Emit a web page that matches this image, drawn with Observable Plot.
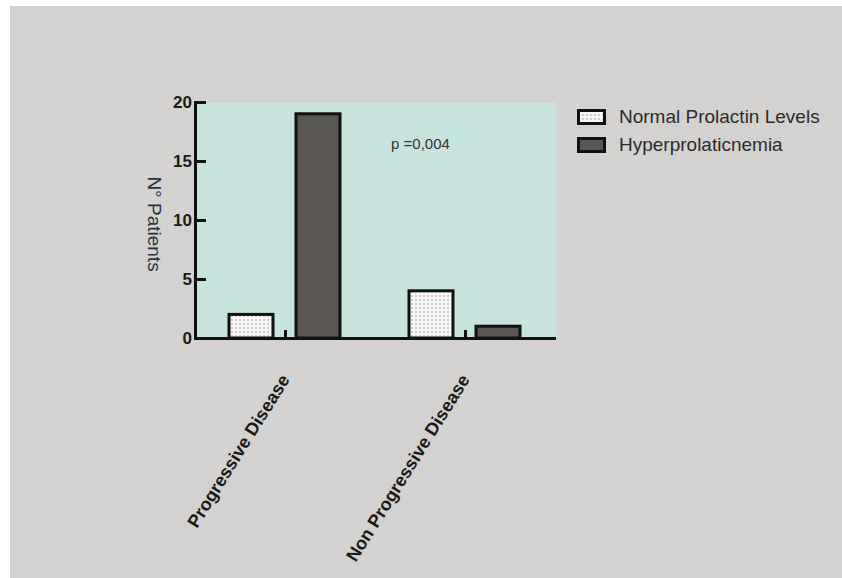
<!DOCTYPE html>
<html><head><meta charset="utf-8">
<script src="https://cdn.jsdelivr.net/npm/d3@7"></script>
<script src="https://cdn.jsdelivr.net/npm/@observablehq/plot@0.6"></script>
<style>
html,body{margin:0;padding:0;background:#fff;}
#wrap{position:absolute;left:10px;top:6px;width:832px;height:572px;background:#d3d2d0;overflow:hidden;font-family:"Liberation Sans",Arial,sans-serif;}
#legend{position:absolute;left:567px;top:97px;}
.row{display:flex;align-items:center;height:28px;font-size:19px;color:#2b2b2b;white-space:nowrap;}
.row svg{margin-right:13px;flex:none;}
</style></head><body><div id="wrap"><div id="legend"></div></div>
<script>
const groups = ["Progressive Disease", "Non Progressive Disease"];
const series = ["Normal Prolactin Levels", "Hyperprolaticnemia"];
const normalValues = [2, 4];
const hyperValues = [19, 1];
const yTicks = [0, 5, 10, 15, 20];
const yLabelParts = ["N°", "Patients"];
const pLabel = "p =0,004";
const pAnnotation = [{group: "Non Progressive Disease", series: "Normal Prolactin Levels", value: 16.5}];
const seriesFills = ["url(#dots)", "#5a5653"];

const data = groups.flatMap((g, i) => [
  {group: g, series: series[0], value: normalValues[i]},
  {group: g, series: series[1], value: hyperValues[i]}
]);

const chart = Plot.plot({
  width: 832, height: 572,
  marginLeft: 185, marginRight: 287, marginTop: 96, marginBottom: 240,
  style: {background: "transparent", fontFamily: "'Liberation Sans', Arial, sans-serif", color: "#1a1a1a"},
  fx: {domain: groups, padding: 0, label: null},
  x: {domain: series, paddingInner: 0.336, paddingOuter: 0.51, axis: null},
  y: {domain: [0, 20], axis: null},
  color: {domain: series, range: seriesFills},
  marks: [
    Plot.frame({fill: "#c8e4df", stroke: "none", insetRight: -1}),
    Plot.barY(data, {fx: "group", x: "series", y: "value", fill: "series", stroke: "#111", strokeWidth: 3}),
    Plot.ruleY([0], {strokeWidth: 3, stroke: "#111", insetRight: -1}),
    Plot.ruleX(groups, {fx: d => d, x: null, y1: 0, y2: 0, insetTop: -8, strokeWidth: 3, stroke: "#111"}),
    Plot.frame({anchor: "left", facetAnchor: "left", strokeWidth: 3, stroke: "#111"}),
    Plot.axisY({ticks: yTicks, tickSize: -11, tickPadding: 14.5, strokeWidth: 3, stroke: "#111", fontSize: 17, fontWeight: "bold", label: null}),
    Plot.axisFx({anchor: "bottom", tickSize: 0, tickPadding: 38, tickRotate: -58, fontSize: 18, fontWeight: "bold", label: null}),
    Plot.text(pAnnotation, {fx: "group", x: "series", y: "value", text: () => pLabel, dx: -11, fontSize: 15, fill: "#333"}),
    Plot.text([groups[0]], {fx: d => d, frameAnchor: "left", textAnchor: "middle", rotate: 90, dx: -41, dy: 3.5, text: () => yLabelParts.join(" "), fontSize: 19, fill: "#27323d", ariaLabel: "ylabel"})
  ]
});

// dot pattern
const ns = "http://www.w3.org/2000/svg";
const defs = document.createElementNS(ns, "defs");
defs.innerHTML = '<pattern id="dots" width="4" height="4" patternUnits="userSpaceOnUse"><rect width="4" height="4" fill="#f6f6f4"/><circle cx="2" cy="2" r="0.75" fill="#8a8a8a"/></pattern>';
chart.insertBefore(defs, chart.firstChild);

// mixed-style y label
const yl = chart.querySelector('g[aria-label="ylabel"] text');
if (yl) {
  yl.textContent = "";
  const t1 = document.createElementNS(ns, "tspan"); t1.textContent = yLabelParts[0] + " ";
  const t2 = document.createElementNS(ns, "tspan"); t2.textContent = yLabelParts[1]; t2.setAttribute("font-style", "italic");
  yl.appendChild(t1); yl.appendChild(t2);
  yl.style.letterSpacing = "1.3px";
}

document.getElementById("wrap").appendChild(chart);

// legend from the color scale
const cs = chart.scale("color");
const legend = document.getElementById("legend");
cs.domain.forEach((name, i) => {
  const row = document.createElement("div");
  row.className = "row";
  row.innerHTML = `<svg width="29" height="16"><rect x="1.5" y="1.5" width="26" height="13" fill="${cs.range[i]}" stroke="#111" stroke-width="3"/></svg><span>${name}</span>`;
  legend.appendChild(row);
});
</script></body></html>
